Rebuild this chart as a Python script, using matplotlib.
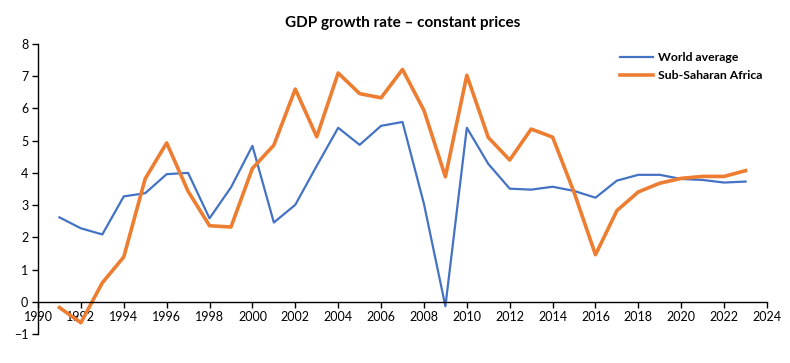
import matplotlib
matplotlib.use("Agg")
import matplotlib.pyplot as plt

plt.rcParams['font.family'] = ['Lato', 'DejaVu Sans']

# data (GDP growth, %)
years = list(range(1991, 2024))
world_avg = [2.62, 2.28, 2.09, 3.27, 3.37, 3.96, 4.00, 2.59, 3.55, 4.84,
             2.46, 3.01, 4.22, 5.40, 4.87, 5.46, 5.58, 3.04, -0.14, 5.40,
             4.28, 3.51, 3.48, 3.57, 3.44, 3.23, 3.76, 3.94, 3.94, 3.81,
             3.78, 3.70, 3.73]
ssa = [-0.18, -0.65, 0.59, 1.39, 3.82, 4.93, 3.43, 2.36, 2.32, 4.14,
       4.86, 6.60, 5.12, 7.10, 6.46, 6.33, 7.21, 5.94, 3.88, 7.03,
       5.10, 4.40, 5.36, 5.11, 3.40, 1.46, 2.83, 3.41, 3.68, 3.83,
       3.89, 3.89, 4.07]
x_ticks = list(range(1990, 2025, 2))
y_ticks = list(range(-1, 9))

fig = plt.figure(figsize=(7.9, 3.63), dpi=100)
ax = fig.add_axes([0.0481, 0.0799, 0.9228, 0.7989])

ax.plot(years, world_avg, color='#4472C4', linewidth=1.6, label='World average')
ax.plot(years, ssa, color='#ED7D31', linewidth=2.6, label='Sub-Saharan Africa')

ax.set_xlim(1990, 2024)
ax.set_ylim(-1, 8)
ax.set_xticks(x_ticks)
ax.set_yticks(y_ticks)

ax.spines['top'].set_visible(False)
ax.spines['right'].set_visible(False)
ax.spines['bottom'].set_position(('data', 0))
ax.spines['bottom'].set_linewidth(1.0)
ax.spines['left'].set_linewidth(1.0)
ax.tick_params(axis='both', direction='out', length=4, width=1.0,
               labelsize=9, colors='black', pad=3)

ax.set_title('GDP growth rate – constant prices', fontsize=11,
             fontweight='bold', pad=12)

leg = ax.legend(loc='upper left', bbox_to_anchor=(0.783, 1.01),
                frameon=False, handlelength=2.7, handletextpad=0.4,
                labelspacing=0.55, prop={'size': 8.8, 'weight': 'bold'})

fig.savefig('out.png', dpi=100)
